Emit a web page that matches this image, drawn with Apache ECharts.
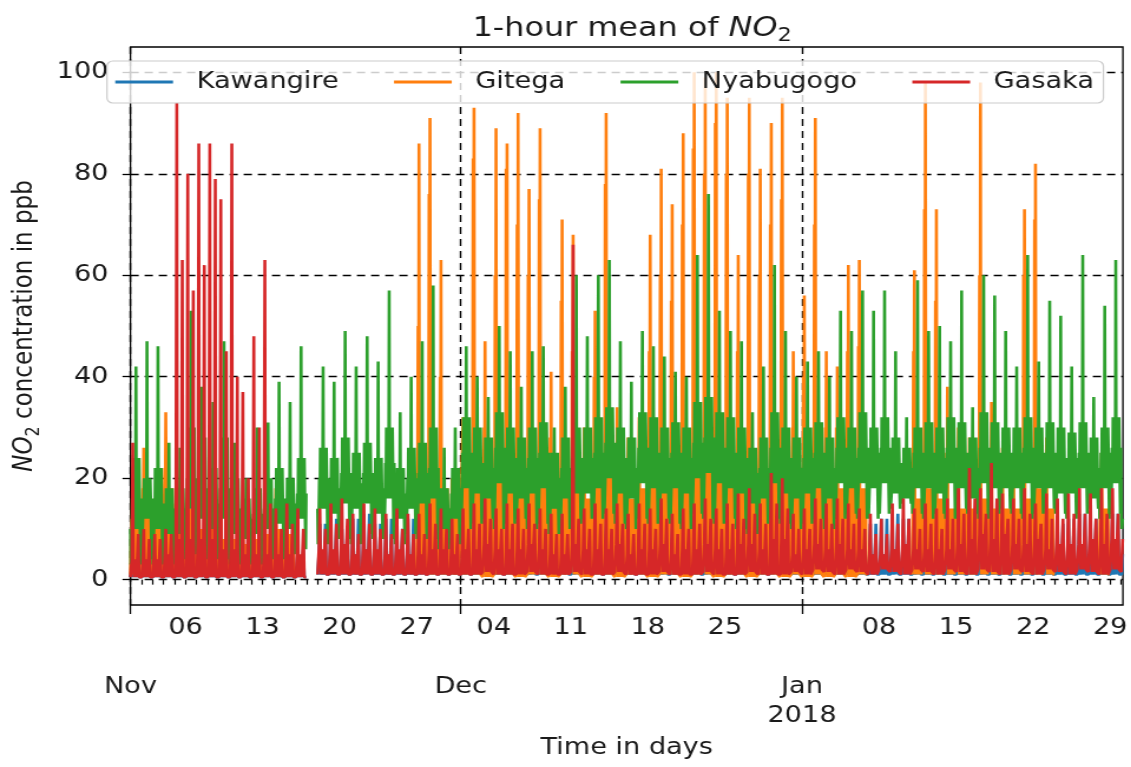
<!DOCTYPE html>
<html>
<head>
<meta charset="utf-8">
<title>1-hour mean of NO2</title>
<script src="https://cdn.jsdelivr.net/npm/echarts@6.0.0/dist/echarts.min.js"></script>
<style>
    html, body { margin: 0; padding: 0; background: #fff; overflow: hidden; }
    /* the reference picture is stretched sideways, so the chart is drawn narrower and scaled */
    #chart { width: 959px; height: 767px; transform: scaleX(1.1794); transform-origin: 0 0; }
</style>
</head>
<body>
<div id="chart"></div>
<script>
// x values are days since 2017-11-01 00:00, one point per hour
const X_MAX = 90.15

const seriesNames = ['Kawangire', 'Gitega', 'Nyabugogo', 'Gasaka']
const colors = ['#1f77b4', '#ff7f0e', '#2ca02c', '#d62728']

const weekTicks = [5, 12, 19, 26, 33, 40, 47, 54, 68, 75, 82, 89]
const weekLabels = ['06', '13', '20', '27', '04', '11', '18', '25', '08', '15', '22', '29']
const monthTicks = [0, 30, 61]
const monthLabels = ['Nov', 'Dec', 'Jan\n2018']
const yTicks = [0, 20, 40, 60, 80, 100]

// Nyabugogo: daily spike, band top, lower band top, middle band, night low
const nyaPeak = [42, 47, 46, 27, 26, 53, 38, 35, 47, 27,
    20, 30, 31, 39, 35, 46, null, 42, 39, 49,
    42, 48, 43, 57, 33, 40, 47, 58, 26, 30,
    46, 40, 36, 50, 45, 38, 45, 46, 30, 38,
    60, 48, 60, 63, 47, 39, 49, 46, 44, 41,
    40, 64, 76, 53, 49, 47, 33, 42, 62, 49,
    40, 43, 45, 40, 53, 49, 57, 53, 57, 45,
    32, 59, 49, 50, 47, 57, 34, 60, 56, 49,
    42, 64, 43, 55, 52, 42, 64, 36, 54, 63,
    22]
const nyaTop = [24, 20, 22, 18, 18, 30, 28, 22, 28, 20,
    16, 18, 20, 22, 20, 24, null, 26, 24, 28,
    25, 27, 24, 30, 22, 26, 27, 30, 18, 22,
    32, 30, 28, 33, 30, 28, 30, 31, 25, 28,
    30, 30, 32, 34, 30, 28, 33, 32, 30, 31,
    30, 35, 36, 33, 32, 30, 26, 28, 33, 30,
    28, 30, 31, 28, 32, 30, 33, 30, 32, 28,
    26, 30, 31, 30, 32, 31, 28, 33, 31, 30,
    30, 32, 30, 31, 30, 29, 31, 28, 30, 32,
    20]
const nyaUpper = [16, 16, 15, 14, 13, 20, 18, 15, 18, 14,
    12, 13, 14, 16, 15, 17, null, 20, 18, 21,
    19, 21, 18, 23, 17, 20, 21, 22, 14, 17,
    25, 23, 22, 26, 24, 22, 24, 25, 20, 22,
    24, 24, 25, 27, 24, 22, 26, 25, 24, 25,
    24, 27, 28, 26, 25, 24, 21, 22, 26, 24,
    22, 24, 25, 22, 26, 24, 26, 25, 26, 23,
    22, 25, 25, 24, 26, 25, 22, 26, 25, 25,
    25, 26, 25, 25, 24, 24, 25, 22, 25, 26,
    16]
const nyaMid = [10, 12, 10, 9, 9, 14, 12, 10, 12, 9,
    8, 9, 10, 11, 10, 12, null, 14, 13, 15,
    14, 15, 13, 16, 12, 14, 15, 16, 10, 12,
    18, 17, 16, 19, 17, 16, 17, 18, 14, 16,
    17, 17, 18, 20, 17, 16, 19, 18, 17, 18,
    17, 20, 21, 19, 18, 17, 15, 16, 19, 17,
    16, 17, 18, 16, 19, 18, 19, 18, 19, 17,
    16, 18, 18, 17, 19, 18, 16, 19, 18, 18,
    18, 19, 18, 18, 17, 17, 18, 16, 18, 19,
    12]
const nyaLow = [3, 4, 3, 3, 4, 5, 5, 4, 4, 3,
    3, 3, 4, 4, 5, 6, null, 7, 8, 8,
    7, 9, 8, 8, 7, 9, 8, 8, 6, 7,
    10, 11, 12, 10, 11, 12, 10, 11, 9, 10,
    11, 12, 12, 13, 11, 10, 12, 11, 12, 11,
    10, 13, 12, 11, 12, 10, 9, 11, 12, 11,
    10, 11, 12, 10, 12, 13, 12, 12, 13, 14,
    15, 13, 12, 13, 12, 14, 13, 12, 13, 14,
    13, 12, 13, 14, 13, 12, 13, 14, 12, 13,
    10]

// Gitega: daily spike, second spike, daytime level, low
const gitPeak = [20, 26, 16, 33, 22, 24, 18, 20, 14, 12,
    10, 12, 15, 18, 16, null, null, null, null, null,
    null, null, null, null, null, null, 86, 91, 63, 20,
    32, 93, 47, 89, 86, 92, 77, 89, 41, 71,
    68, 30, 53, 92, 34, 28, 32, 68, 81, 74,
    88, 100, 99, 100, 95, 64, 95, 81, 90, 95,
    45, 56, 91, 45, 42, 62, 63, null, null, null,
    null, 61, 98, 73, 38, 30, 28, 98, 35, 26,
    24, 73, 82, 28, null, null, null, null, 25, null,
    null]
const gitSecond = [12, 18, 10, 22, 15, 16, 12, 14, 10, 8,
    8, 9, 10, 12, 10, null, null, null, null, null,
    null, null, null, null, null, null, 50, 76, 40, 12,
    20, 83, 30, 60, 81, 70, 60, 75, 28, 55,
    45, 22, 40, 78, 25, 20, 22, 45, 60, 55,
    70, 85, 80, 90, 80, 45, 80, 60, 70, 75,
    30, 40, 70, 30, 30, 45, 46, null, null, null,
    null, 45, 73, 55, 25, 22, 20, 60, 25, 20,
    18, 60, 71, 20, null, null, null, null, 18, null,
    null]
const gitTop = [10, 14, 10, 18, 12, 14, 10, 12, 8, 8,
    7, 8, 9, 10, 9, null, null, null, null, null,
    null, null, null, null, null, null, 20, 22, 18, 14,
    20, 22, 18, 20, 22, 20, 18, 22, 16, 18,
    18, 16, 20, 22, 18, 16, 18, 20, 22, 20,
    22, 24, 24, 22, 22, 18, 24, 20, 22, 22,
    18, 20, 22, 18, 18, 20, 18, null, null, null,
    null, 16, 18, 16, 14, 14, 14, 16, 14, 14,
    14, 16, 18, 14, null, null, null, null, 14, null,
    null]
const gitLow = [1, 1, 2, 1, 1, 2, 1, 1, 1, 1,
    1, 1, 1, 1, 1, null, null, null, null, null,
    null, null, null, null, null, null, 2, 1, 1, 1,
    1, 1, 0.5, 1, 1, 0.5, 1, 1, 0.5, 1,
    1, 0.5, 1, 1, 0.5, 1, 1, 0.5, 1, 1,
    0.5, 1, 1, 0.5, 1, 1, 0.5, 1, 1, 0.5,
    1, 0.5, 1, 0.5, 1, 0.5, 1, null, null, null,
    null, 1, 1, 1, 1, 1, 1, 1, 1, 1,
    1, 1, 1, 1, null, null, null, null, 1, null,
    null]

// Gasaka: morning spike, evening spike, middle level, low
const gasPeak = [27, 10, 9, 10, 94, 80, 86, 86, 75, 86,
    37, 48, 63, 14, 15, 14, null, 14, 15, 16,
    13, 15, 14, 13, 14, 13, 13, 15, 14, 12,
    14, 15, 16, 14, 15, 14, 15, 14, 13, 13,
    66, 14, 15, 14, 15, 13, 15, 14, 16, 13,
    14, 15, 16, 14, 15, 17, 18, 15, 21, 20,
    13, 14, 16, 15, 16, 15, 14, 13, 12, 15,
    16, 14, 15, 14, 16, 18, 22, 18, 23, 17,
    16, 18, 15, 17, 16, 17, 18, 17, 18, 18,
    12]
const gasSecond = [9, 8, 8, 9, 63, 57, 62, 79, 45, 40,
    20, 30, 15, 10, 11, 10, null, 10, 11, 12,
    9, 11, 10, 9, 10, 9, 9, 11, 10, 9,
    10, 11, 12, 10, 11, 10, 11, 10, 9, 9,
    12, 10, 11, 10, 11, 9, 11, 10, 12, 9,
    10, 11, 12, 10, 11, 12, 13, 11, 15, 14,
    10, 10, 12, 11, 12, 11, 10, 9, 9, 11,
    12, 10, 11, 10, 12, 13, 16, 13, 16, 12,
    12, 13, 11, 12, 12, 13, 13, 12, 13, 13,
    9]
const gasMid = [4, 4, 4, 5, 8, 8, 8, 8, 6, 6,
    5, 5, 5, 5, 5, 5, null, 6, 6, 7,
    5, 6, 6, 5, 6, 5, 5, 6, 6, 5,
    6, 6, 7, 6, 6, 6, 7, 6, 5, 5,
    7, 6, 6, 6, 7, 5, 6, 6, 7, 5,
    6, 6, 7, 6, 6, 7, 7, 6, 8, 8,
    5, 6, 7, 6, 7, 6, 6, 5, 5, 6,
    7, 6, 6, 6, 6, 7, 8, 9, 8, 9,
    7, 7, 8, 6, 7, 7, 7, 8, 7, 8,
    8]
const gasLow = [0.5, 0.5, 0.5, 0.5, 0.5, 0.5, 0.5, 0.5, 0.5, 0.5,
    0.5, 0.5, 0.5, 0.5, 0.5, 0.5, null, 1, 1, 1,
    1, 1, 1, 1, 1, 1, 1, 1, 1, 1,
    1, 1, 1.5, 1, 1, 1, 1.5, 1, 1, 1,
    1.5, 1, 1, 1, 1.5, 1, 1, 1, 1.5, 1,
    1, 1, 1.5, 1, 1, 1, 1.5, 1, 1, 1,
    1.5, 1, 2, 1.5, 1, 2, 1.5, 1, 2, 1.5,
    1, 2, 1.5, 1, 2, 1.5, 1, 2, 1.5, 1,
    2, 1.5, 1, 2, 1.5, 1, 2, 1.5, 1, 2,
    1.5]

// Kawangire: daily spike, middle level, low
const kawPeak = [6, 5, 6, 5, 10, 9, 9, 7, 8, 6,
    5, 6, 7, 6, 7, 6, null, 11, 12, 10,
    12, 13, 11, 12, 10, 12, 13, 11, 12, 10,
    12, 11, 13, 12, 12, 11, 13, 12, 11, 12,
    13, 12, 11, 12, 13, 12, 11, 12, 13, 12,
    11, 12, 13, 12, 11, 12, 13, 12, 14, 13,
    12, 13, 12, 13, 12, 13, 12, 11, 12, 13,
    12, 13, 12, 13, 12, 11, 12, 13, 12, 13,
    12, 12, 13, 12, 11, 12, 13, 12, 12, 13,
    10]
const kawMid = [3, 3, 3, 3, 4, 4, 4, 3, 3, 3,
    3, 3, 3, 3, 3, 3, null, 5, 5, 5,
    5, 6, 5, 5, 5, 5, 6, 5, 5, 5,
    5, 5, 6, 5, 5, 5, 6, 5, 5, 5,
    6, 5, 5, 5, 6, 5, 5, 5, 6, 5,
    5, 5, 6, 5, 5, 5, 6, 5, 6, 6,
    5, 6, 5, 6, 5, 6, 5, 5, 5, 6,
    5, 6, 5, 6, 5, 5, 5, 6, 5, 6,
    5, 5, 6, 5, 5, 5, 6, 5, 5, 6,
    5]
const kawLow = [0.5, 0.5, 0.5, 0.5, 0.5, 0.5, 0.5, 0.5, 0.5, 0.5,
    0.5, 0.5, 0.5, 0.5, 0.5, 0.5, null, 1, 1, 1,
    1, 1, 1, 1, 1, 1, 1, 1, 1, 1,
    1, 1, 1, 1, 1, 1, 1, 1, 1, 1,
    1, 1, 1, 1, 1, 1, 1, 1, 1, 1,
    1, 1, 1, 1, 1, 1, 1, 1, 1, 1,
    1, 1, 1, 1, 1, 1, 1, 1, 1, 1,
    1, 1, 1, 1, 1, 1, 1, 1, 1, 1,
    1, 1, 1, 1, 1, 1, 1, 1, 1, 1,
    1]

// which daily level each hour (0..23) takes, per station
const kawHours = 'LLLMMPMLLLLMLLLMMPMLLLLL'
const gitHours = 'LLTSTPTLTLLTLLTLLTLTLLLL'
const nyaHours = 'MLLMUMTMUMTUPMUTMUMTUMLU'
const gasHours = 'LLLMMPMMLLLMLLLMMSMLLLLL'

const buildHourly = (levels, hours) => {
    let out = []
    for (let d = 0; d < levels.P.length; d++) {
        for (let h = 0; h < 24; h++) {
            const t = d + h / 24
            if (t > X_MAX) break
            const v = levels[hours[h]][d]
            out.push([t, v == null ? '-' : v])
        }
    }
    return out
}

const seriesData = [
    buildHourly({ P: kawPeak, M: kawMid, L: kawLow }, kawHours),
    buildHourly({ P: gitPeak, S: gitSecond, T: gitTop, L: gitLow }, gitHours),
    buildHourly({ P: nyaPeak, T: nyaTop, U: nyaUpper, M: nyaMid, L: nyaLow }, nyaHours),
    buildHourly({ P: gasPeak, S: gasSecond, M: gasMid, L: gasLow }, gasHours)
]

const FONT = 'DejaVu Sans'
const INK = '#1a1a1a'

// subscript pieces for NO2
const richNO2 = size => ({
    a: { fontFamily: FONT, fontSize: size, fontWeight: 'normal', color: INK, lineHeight: size + 8, verticalAlign: 'middle' },
    i: { fontFamily: FONT, fontSize: size, fontWeight: 'normal', fontStyle: 'italic', color: INK, lineHeight: size + 8, verticalAlign: 'middle' },
    s: { fontFamily: FONT, fontSize: Math.round(size * 0.7), fontWeight: 'normal', color: INK, lineHeight: Math.round(size * 0.7), verticalAlign: 'bottom' }
})

const chart = echarts.init(document.getElementById('chart'))

const option = {
    animation: false,
    backgroundColor: '#fff',
    title: {
        text: '{a|1-hour mean of }{i|NO}{s|2}',
        left: 531,
        textAlign: 'center',
        top: 6,
        textStyle: { fontWeight: 'normal', rich: richNO2(27) }
    },
    legend: {
        data: seriesNames,
        left: 90.7,
        top: 61,
        orient: 'horizontal',
        padding: [8, 8, 8, 7],
        icon: 'rect',
        itemWidth: 49,
        itemHeight: 3,
        itemGap: 47,
        backgroundColor: 'rgba(255,255,255,0.8)',
        borderColor: '#cccccc',
        borderWidth: 1.2,
        borderRadius: 5,
        textStyle: {
            fontFamily: FONT,
            fontSize: 23,
            color: INK,
            lineHeight: 26,
            padding: [0, 0, 0, 15]
        }
    },
    grid: {
        left: 110.6,
        right: 6,
        top: 47,
        bottom: 162,
        show: true,
        borderColor: '#000',
        borderWidth: 1.3,
        backgroundColor: 'transparent'
    },
    xAxis: [
        {
            type: 'value',
            min: 0,
            max: X_MAX,
            name: 'Time in days',
            nameLocation: 'middle',
            nameGap: 132,
            nameTextStyle: { fontFamily: FONT, fontSize: 23, color: INK },
            axisLine: { show: false },
            splitLine: { show: false },
            axisTick: {
                show: true,
                length: 5,
                lineStyle: { color: '#000', width: 1.2 },
                customValues: Array.from({ length: 91 }, (_, i) => i)
            },
            axisLabel: {
                customValues: weekTicks,
                margin: 12,
                fontFamily: FONT,
                fontSize: 23,
                color: INK,
                formatter: v => weekLabels[weekTicks.indexOf(Math.round(v))] || ''
            }
        },
        {
            type: 'value',
            min: 0,
            max: X_MAX,
            position: 'bottom',
            axisLine: { show: false },
            axisTick: {
                show: true,
                length: 9,
                lineStyle: { color: '#000', width: 1.3 },
                customValues: monthTicks
            },
            axisLabel: {
                customValues: monthTicks,
                margin: 68,
                fontFamily: FONT,
                fontSize: 23,
                lineHeight: 29,
                color: INK,
                formatter: v => monthLabels[monthTicks.indexOf(Math.round(v))] || ''
            },
            splitLine: {
                show: true,
                lineStyle: { color: '#000', width: 1.4, type: [7, 5] }
            }
        }
    ],
    yAxis: {
        type: 'value',
        min: -5,
        max: 105,
        name: '{i|NO}{s|2}{a| concentration in ppb}',
        nameLocation: 'middle',
        nameGap: 74,
        nameTextStyle: { rich: richNO2(23) },
        axisLine: { show: false },
        axisTick: {
            show: true,
            length: 6.8,
            lineStyle: { color: '#000', width: 1.3 },
            customValues: yTicks
        },
        axisLabel: {
            customValues: yTicks,
            margin: 18.6,
            fontFamily: FONT,
            fontSize: 23,
            color: INK
        },
        splitLine: {
            show: true,
            lineStyle: { color: '#000', width: 1.4, type: [7, 5] }
        }
    },
    series: seriesNames.map((name, i) => ({
        name,
        type: 'line',
        xAxisIndex: 0,
        data: seriesData[i],
        showSymbol: false,
        symbol: 'none',
        connectNulls: false,
        progressive: 0,
        color: colors[i],
        lineStyle: { color: colors[i], width: 2.6 },
        emphasis: { disabled: true }
    }))
}

chart.setOption(option)
</script>
</body>
</html>
